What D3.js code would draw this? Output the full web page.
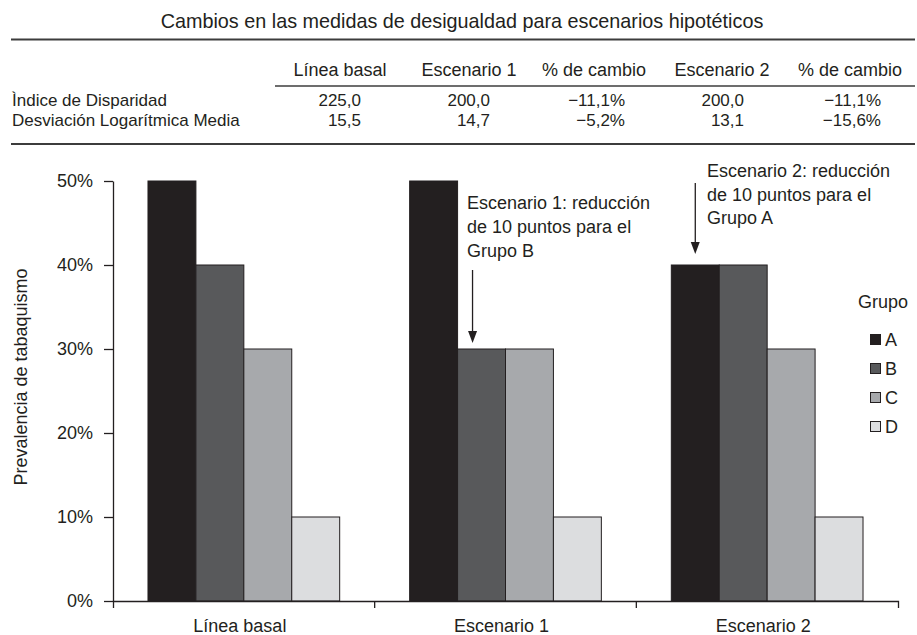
<!DOCTYPE html>
<html lang="es">
<head>
<meta charset="utf-8">
<script src="https://cdn.jsdelivr.net/npm/d3@7"></script>
<style>
  html, body { margin: 0; padding: 0; background: #fff; }
  svg { display: block; font-family: "Liberation Sans", Arial, Helvetica, sans-serif; }
  text { fill: #231f20; }
</style>
</head>
<body>
<svg id="chart" width="917" height="635"></svg>
<script>
// ---- Table data ----
const tableTitle = "Cambios en las medidas de desigualdad para escenarios hipotéticos";
const tableHeaders = ["Línea basal", "Escenario 1", "% de cambio", "Escenario 2", "% de cambio"];
const tableRowLabels = ["Ìndice de Disparidad", "Desviación Logarítmica Media"];
const disparityRow = ["225,0", "200,0", "\u221211,1%", "200,0", "\u221211,1%"];
const mldRow = ["15,5", "14,7", "\u22125,2%", "13,1", "\u221215,6%"];

// ---- Bar chart data ----
const scenarios = ["Línea basal", "Escenario 1", "Escenario 2"];
const groups = ["A", "B", "C", "D"];
const groupA = [50, 50, 40];
const groupB = [40, 30, 40];
const groupC = [30, 30, 30];
const groupD = [10, 10, 10];
const yTicks = [0, 10, 20, 30, 40, 50];
const yLabel = "Prevalencia de tabaquismo";
const legendTitle = "Grupo";

// Annotations: which bar they point at, and their text lines
const annotations = [
  { scenario: "Escenario 1", group: "B",
    lines: ["Escenario 1: reducción", "de 10 puntos para el", "Grupo B"] },
  { scenario: "Escenario 2", group: "A",
    lines: ["Escenario 2: reducción", "de 10 puntos para el", "Grupo A"] }
];

const seriesByGroup = { A: groupA, B: groupB, C: groupC, D: groupD };
const colors = d3.scaleOrdinal().domain(groups)
  .range(["#231f20", "#58595b", "#a7a9ac", "#dcdddf"]);

const svg = d3.select("#chart");
const ink = "#231f20";

// ---------------- Table ----------------
const table = svg.append("g").attr("class", "table");
table.append("text")
  .attr("x", 462).attr("y", 28)
  .attr("text-anchor", "middle")
  .style("font-size", "19.8px")
  .text(tableTitle);

table.append("line").attr("x1", 11).attr("x2", 915).attr("y1", 39.5).attr("y2", 39.5)
  .attr("stroke", "#3c3c3c").attr("stroke-width", 2);

const headerCenters = [340, 469, 594, 722, 850];
const valueRights = [361, 490, 625, 744, 881];

table.selectAll("text.hdr").data(tableHeaders).join("text")
  .attr("class", "hdr")
  .attr("x", (d, i) => headerCenters[i]).attr("y", 76)
  .attr("text-anchor", "middle")
  .style("font-size", "18px")
  .text(d => d);

table.append("line").attr("x1", 275).attr("x2", 915).attr("y1", 86).attr("y2", 86)
  .attr("stroke", "#3c3c3c").attr("stroke-width", 1.6);

const rows = [disparityRow, mldRow];
const rowBaselines = [106, 125.5];
rows.forEach((vals, r) => {
  table.append("text")
    .attr("x", 12).attr("y", rowBaselines[r])
    .style("font-size", "17px")
    .text(tableRowLabels[r]);
  table.selectAll("text.v" + r).data(vals).join("text")
    .attr("class", "v" + r)
    .attr("x", (d, i) => valueRights[i]).attr("y", rowBaselines[r])
    .attr("text-anchor", "end")
    .style("font-size", "17px")
    .text(d => d);
});

table.append("line").attr("x1", 11).attr("x2", 915).attr("y1", 144).attr("y2", 144)
  .attr("stroke", "#3c3c3c").attr("stroke-width", 2);

// ---------------- Bar chart ----------------
const y = d3.scaleLinear().domain([0, 50]).range([601, 181]);
const x0 = d3.scaleBand().domain(scenarios).range([113, 898]).padding(0);
const x1 = d3.scaleBand().domain(groups).range([0, x0.bandwidth()])
  .paddingInner(0).paddingOuter(0.73);

const plot = svg.append("g").attr("class", "plot");

// bars
const barData = [];
scenarios.forEach((s, si) => {
  groups.forEach(g => barData.push({ scenario: s, group: g, value: seriesByGroup[g][si] }));
});
plot.selectAll("rect.bar").data(barData).join("rect")
  .attr("class", "bar")
  .attr("x", d => x0(d.scenario) + x1(d.group))
  .attr("width", x1.bandwidth())
  .attr("y", d => y(d.value))
  .attr("height", d => y(0) - y(d.value))
  .attr("fill", d => colors(d.group))
  .attr("stroke", ink)
  .attr("stroke-width", 1);

// y axis
const yAxis = plot.append("g")
  .attr("transform", `translate(${x0.range()[0]},0)`)
  .call(d3.axisLeft(y).tickValues(yTicks).tickFormat(d => d + "%")
    .tickSize(9).tickPadding(11).tickSizeOuter(0));
yAxis.selectAll("text").style("font-size", "18px").attr("fill", ink);
yAxis.selectAll("line, path").attr("stroke", ink).attr("stroke-width", 1.3);

// x axis: labels centred on each scenario, ticks at band edges
const xAxis = plot.append("g")
  .attr("transform", `translate(0,${y(0)})`)
  .call(d3.axisBottom(x0).tickSize(0).tickPadding(18).tickSizeOuter(7));
xAxis.selectAll(".tick text").style("font-size", "18px").attr("fill", ink)
  .attr("dx", -4);
xAxis.select("path.domain").attr("stroke", ink).attr("stroke-width", 1.3);
xAxis.selectAll("line.edge").data(scenarios.slice(1)).join("line")
  .attr("class", "edge")
  .attr("x1", d => x0(d)).attr("x2", d => x0(d))
  .attr("y1", 0).attr("y2", 7)
  .attr("stroke", ink).attr("stroke-width", 1.3);

// y axis title
plot.append("text")
  .attr("transform", "translate(27,377) rotate(-90)")
  .attr("text-anchor", "middle")
  .style("font-size", "18px")
  .text(yLabel);

// ---------------- Annotations ----------------
const annLayout = [
  { dx: -9, textX: 467, firstBaseline: 209, lineGap: 24, arrowTop: 270, gap: 6 },
  { dx: 0, textX: 707, firstBaseline: 177, lineGap: 23.5, arrowTop: 183, gap: 11 }
];
annotations.forEach((a, i) => {
  const L = annLayout[i];
  const si = scenarios.indexOf(a.scenario);
  const value = seriesByGroup[a.group][si];
  const cx = x0(a.scenario) + x1(a.group) + x1.bandwidth() / 2 + L.dx;
  const tip = y(value) - L.gap;
  const g = svg.append("g").attr("class", "annotation");
  g.selectAll("text").data(a.lines).join("text")
    .attr("x", L.textX)
    .attr("y", (d, k) => L.firstBaseline + k * L.lineGap)
    .style("font-size", "18px")
    .text(d => d);
  g.append("line")
    .attr("x1", cx).attr("x2", cx)
    .attr("y1", L.arrowTop).attr("y2", tip - 8)
    .attr("stroke", ink).attr("stroke-width", 1.3);
  g.append("path")
    .attr("d", d3.line()([[cx - 4.5, tip - 12], [cx + 4.5, tip - 12], [cx, tip]]) + "Z")
    .attr("fill", ink);
});

// ---------------- Legend ----------------
const legend = svg.append("g").attr("class", "legend");
legend.append("text").attr("x", 858).attr("y", 308)
  .style("font-size", "18px").text(legendTitle);
const ly = d3.scalePoint().domain(groups).range([339.5, 426.5]);
const items = legend.selectAll("g.item").data(groups).join("g")
  .attr("class", "item")
  .attr("transform", d => `translate(0,${ly(d)})`);
items.append("rect")
  .attr("x", 870.5).attr("y", -5).attr("width", 10).attr("height", 10)
  .attr("fill", d => colors(d)).attr("stroke", ink).attr("stroke-width", 1);
items.append("text")
  .attr("x", 885).attr("y", 6.5)
  .style("font-size", "18px")
  .text(d => d);
</script>
</body>
</html>
